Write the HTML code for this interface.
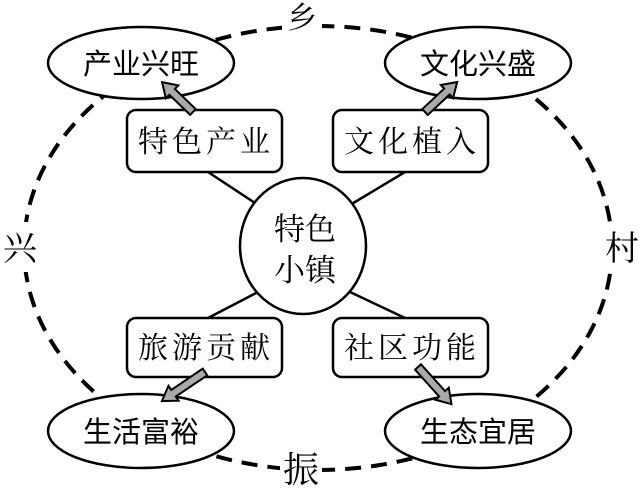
<!DOCTYPE html>
<html><head><meta charset="utf-8"><style>
html,body{margin:0;padding:0;background:#fff;}
svg{display:block;}
text{font-family:"Liberation Sans","Noto Sans CJK SC",sans-serif;fill:#000;}
.s{font-family:"Liberation Serif","Noto Serif CJK SC",serif;}
</style></head><body>
<svg width="640" height="493" viewBox="0 0 640 493" xmlns="http://www.w3.org/2000/svg">
<rect width="640" height="493" fill="#fff"/>
<ellipse cx="318" cy="248" rx="294" ry="222" fill="none" stroke="#000" stroke-width="4" stroke-dasharray="16,10"/>
<rect x="282" y="0" width="40" height="34" fill="#fff"/>
<rect x="0" y="222" width="42" height="50" fill="#fff"/>
<rect x="598" y="222" width="42" height="50" fill="#fff"/>
<rect x="280" y="445" width="42" height="48" fill="#fff"/>
<text class="s" x="302" y="28" font-size="30" text-anchor="middle">乡</text>
<text class="s" x="20" y="260" font-size="34" text-anchor="middle">兴</text>
<text class="s" x="622" y="260" font-size="34" text-anchor="middle">村</text>
<text class="s" x="301" y="482" font-size="36" text-anchor="middle">振</text>
<g fill="#fff" stroke="#000" stroke-width="2.5">
<ellipse cx="141" cy="63" rx="93" ry="36"/>
<ellipse cx="478" cy="63" rx="93" ry="36"/>
<ellipse cx="141" cy="431" rx="93" ry="37"/>
<ellipse cx="478" cy="431" rx="93" ry="37"/>
</g>
<g stroke="#000" stroke-width="2.5">
<line x1="258" y1="205" x2="208" y2="172"/>
<line x1="350" y1="205" x2="405" y2="172"/>
<line x1="258" y1="292" x2="208" y2="318"/>
<line x1="350" y1="292" x2="405" y2="318"/>
</g>
<g fill="#fff" stroke="#000" stroke-width="2.5">
<rect x="127" y="110" width="155" height="62" rx="9"/>
<rect x="333" y="110" width="155" height="62" rx="9"/>
<rect x="127" y="318" width="155" height="59" rx="9"/>
<rect x="333" y="318" width="155" height="59" rx="9"/>
<ellipse cx="303" cy="246" rx="63" ry="68"/>
</g>
<g fill="#aaa" stroke="#000" stroke-width="2">
<polygon transform="translate(193,112) rotate(-136)" points="0,-4 29,-4 29,-9 43,0 29,9 29,4 0,4"/>
<polygon transform="translate(425,112) rotate(-43)" points="0,-4 30,-4 30,-9 44,0 30,9 30,4 0,4"/>
<polygon transform="translate(205,372) rotate(146)" points="0,-4 38,-4 38,-9 52,0 38,9 38,4 0,4"/>
<polygon transform="translate(418,367) rotate(48)" points="0,-4 36,-4 36,-9 50,0 36,9 36,4 0,4"/>
</g>
<g font-size="29" text-anchor="middle">
<text x="141" y="74">产业兴旺</text>
<text x="478" y="74">文化兴盛</text>
<text x="141" y="442">生活富裕</text>
<text x="478" y="442">生态宜居</text>
<text class="s" x="206" y="152" font-size="30" letter-spacing="4">特色产业</text>
<text class="s" x="412" y="152" font-size="30" letter-spacing="4">文化植入</text>
<text class="s" x="206" y="358" font-size="30" letter-spacing="4">旅游贡献</text>
<text class="s" x="412" y="358" font-size="30" letter-spacing="4">社区功能</text>
<text class="s" x="305" y="240" font-size="31">特色</text>
<text class="s" x="305" y="281" font-size="31">小镇</text>
</g>
</svg>
</body></html>
